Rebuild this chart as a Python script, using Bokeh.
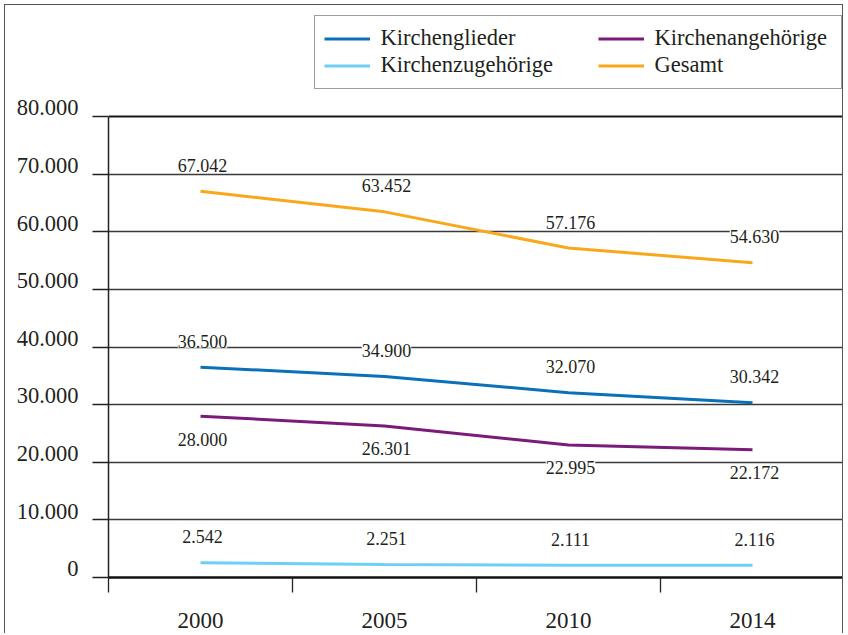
from bokeh.plotting import figure
from bokeh.models import (Range1d, FixedTicker, LinearAxis, Legend, LegendItem,
                          LabelSet, ColumnDataSource, Grid)
from bokeh.embed import file_html
from bokeh.resources import INLINE

# ---- data ----
years = ["2000", "2005", "2010", "2014"]
kirchenglieder = [36500, 34900, 32070, 30342]
kirchenangehoerige = [28000, 26301, 22995, 22172]
kirchenzugehoerige = [2542, 2251, 2111, 2116]
gesamt = [67042, 63452, 57176, 54630]
y_ticks = [0, 10000, 20000, 30000, 40000, 50000, 60000, 70000, 80000]
y_tick_labels = ["0", "10.000", "20.000", "30.000", "40.000", "50.000",
                 "60.000", "70.000", "80.000"]

FONT = "Liberation Serif"
TEXT = "#231f20"
W, H = 839, 629
B_BOTTOM = 57
B_LEFT = 103
frame_h = H - B_BOTTOM
y_end = 80000 * frame_h / 461.0

p = figure(width=W, height=H, output_backend="svg", toolbar_location=None,
           x_range=Range1d(0, len(years)), y_range=Range1d(0, y_end),
           x_axis_type=None, y_axis_type=None,
           min_border_left=B_LEFT, min_border_right=0, min_border_top=0,
           min_border_bottom=B_BOTTOM)
p.outline_line_color = None
p.background_fill_color = "white"
p.border_fill_color = "white"
p.styles = {"margin-left": "4px", "margin-top": "4px",
            "border-left": "1.5px solid #555555",
            "border-top": "1.5px solid #555555",
            "border-right": "1.5px solid #555555"}

xpos = [i + 0.5 for i in range(len(years))]

# grid
p.add_layout(Grid(dimension=1, ticker=FixedTicker(ticks=y_ticks[:-1]),
                  grid_line_color="#3a3a3a", grid_line_width=1.3))
p.add_layout(Grid(dimension=1, ticker=FixedTicker(ticks=y_ticks[-1:]),
                  grid_line_color="#161616", grid_line_width=2.2))

# axes
xaxis = LinearAxis(
    ticker=FixedTicker(ticks=xpos, minor_ticks=list(range(len(years) + 1))),
    major_label_overrides={x: y for x, y in zip(xpos, years)},
    major_tick_out=0, major_tick_in=0, minor_tick_out=15, minor_tick_in=0,
    axis_line_color="#111111", axis_line_width=2.5,
    minor_tick_line_color="#222222", minor_tick_line_width=1.3,
    major_label_standoff=20, major_label_text_font=FONT,
    major_label_text_font_size="23px", major_label_text_color=TEXT)
p.add_layout(xaxis, "below")

yaxis = LinearAxis(
    ticker=FixedTicker(ticks=y_ticks), bounds=(0, 80000),
    major_label_overrides={t: l + "\n" for t, l in zip(y_ticks, y_tick_labels)},
    major_tick_out=16, major_tick_in=0, minor_tick_out=0, minor_tick_in=0,
    axis_line_color="#222222", axis_line_width=1.5,
    major_tick_line_color="#222222", major_tick_line_width=1.5,
    major_label_standoff=14, major_label_text_font=FONT,
    major_label_text_font_size="22.5px", major_label_text_color=TEXT,
    major_label_text_line_height=0.7)
p.add_layout(yaxis, "left")

series = [
    ("Kirchenglieder", kirchenglieder, "#0a70b8", 26),
    ("Kirchenangehörige", kirchenangehoerige, "#7a1b7c", -23),
    ("Kirchenzugehörige", kirchenzugehoerige, "#6dcff6", 26),
    ("Gesamt", gesamt, "#f9a81b", 26),
]

renderers = {}
for name, vals, color, off in series:
    src = ColumnDataSource(dict(
        x=xpos, y=vals,
        label=[f"{v:,}".replace(",", ".") for v in vals]))
    r = p.line("x", "y", source=src, line_color=color, line_width=3)
    renderers[name] = r
    p.add_layout(LabelSet(x="x", y="y", text="label", source=src,
                          x_offset=2, y_offset=off, text_align="center",
                          text_baseline="middle", text_font=FONT,
                          text_font_size="18px", text_color=TEXT,
                          background_fill_color="white"))

names = [s[0] for s in series]
legend_style = dict(padding=9, spacing=0, margin=0, orientation="vertical",
                    glyph_width=46, glyph_height=27, label_height=27,
                    label_standoff=11, label_text_font=FONT,
                    label_text_font_size="22.5px", label_text_color=TEXT)
# first column (with the surrounding box)
legend1 = Legend(
    items=[LegendItem(label=n, renderers=[renderers[n]]) for n in names[0::2]],
    location=(205.5, 488.5), label_width=451,
    border_line_color="#3a3a3a", border_line_width=1.5,
    background_fill_color="white", background_fill_alpha=1.0, **legend_style)
# second column
legend2 = Legend(
    items=[LegendItem(label=n, renderers=[renderers[n]]) for n in names[1::2]],
    location=(489.5, 498.5), border_line_color=None,
    background_fill_alpha=0.0, **legend_style)
p.add_layout(legend1)
p.add_layout(legend2)

open("out.html", "w").write(file_html(p, INLINE))
